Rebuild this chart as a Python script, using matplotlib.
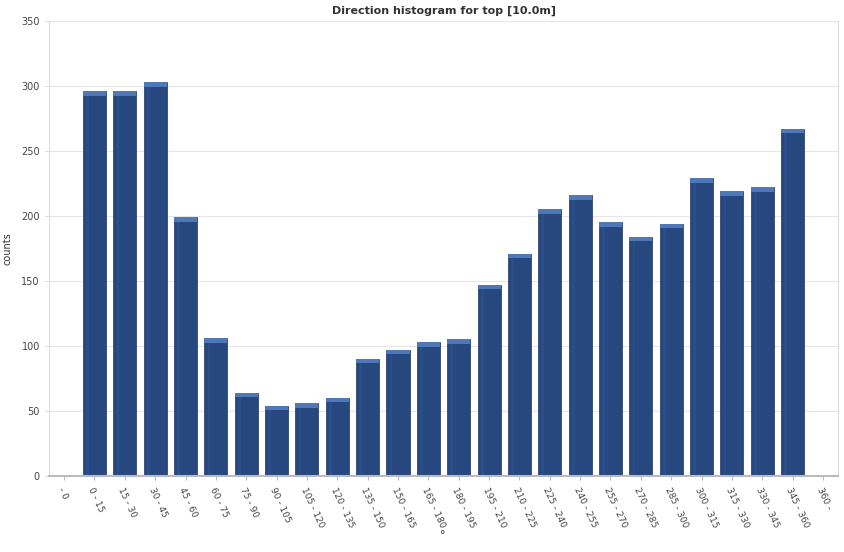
import matplotlib
matplotlib.use("Agg")
import matplotlib.pyplot as plt
import numpy as np

# ---- data ----
bins = ["- 0", "0 - 15", "15 - 30", "30 - 45", "45 - 60", "60 - 75", "75 - 90",
        "90 - 105", "105 - 120", "120 - 135", "135 - 150", "150 - 165",
        "165 - 180", "180 - 195", "195 - 210", "210 - 225", "225 - 240",
        "240 - 255", "255 - 270", "270 - 285", "285 - 300", "300 - 315",
        "315 - 330", "330 - 345", "345 - 360", "360 -"]
counts = [0, 296, 296, 303, 199, 106, 64, 54, 56, 60, 90, 97, 103, 105,
          147, 171, 205, 216, 195, 184, 194, 229, 219, 222, 267, 0]

BAR = "#27477f"
CAP = "#4f78b8"
GRID = "#e6e6e6"

fig = plt.figure(figsize=(8.44, 5.52), dpi=100)
ax = fig.add_axes([0.058, 0.138, 0.935, 0.824])

x = np.arange(len(bins))
vals = np.array(counts, dtype=float)
w = 0.76
ax.bar(x, vals, width=w, color=BAR, edgecolor="#1c3563", linewidth=0.5, zorder=2)
# lighter cap on each bar
cap = np.where(vals > 0, 3.5, 0)
ax.bar(x, cap, bottom=vals - cap, width=w, color=CAP, edgecolor="none", zorder=3)
# subtle highlight along the left side
ax.bar(x - w * 0.3, vals - cap, width=w * 0.12, color="#2f5290", edgecolor="none",
       alpha=0.6, zorder=2.5)

ax.set_xlim(-0.5, len(bins) - 0.5)
ax.set_ylim(0, 350)
ax.set_yticks(range(0, 351, 50))
ax.yaxis.grid(True, color=GRID, linewidth=0.8, zorder=0)
ax.set_axisbelow(True)

ax.set_xticks(x)
ax.set_xticklabels(bins, rotation=-65, ha="left", va="top",
                   rotation_mode="anchor", fontsize=6.5, color="#444444")
ax.tick_params(axis="x", length=3, color="#bbbbbb", pad=4)
ax.tick_params(axis="y", length=3, color="#dddddd", labelsize=7,
               labelcolor="#444444")

for s in ["left", "right", "top"]:
    ax.spines[s].set_color("#dddddd")
ax.spines["top"].set_visible(False)
ax.spines["bottom"].set_color("#bbbbbb")
ax.spines["bottom"].set_linewidth(1.5)

ax.set_ylabel("counts", fontsize=7, color="#333333")
ax.yaxis.set_label_coords(-0.046, 0.5)
fig.text(0.524, 0.03, "°", fontsize=8, color="#333333", ha="center", va="center")
ax.set_title("Direction histogram for top [10.0m]", fontsize=8,
             fontweight="bold", color="#333333", pad=5)

fig.savefig("out.png", dpi=100)
